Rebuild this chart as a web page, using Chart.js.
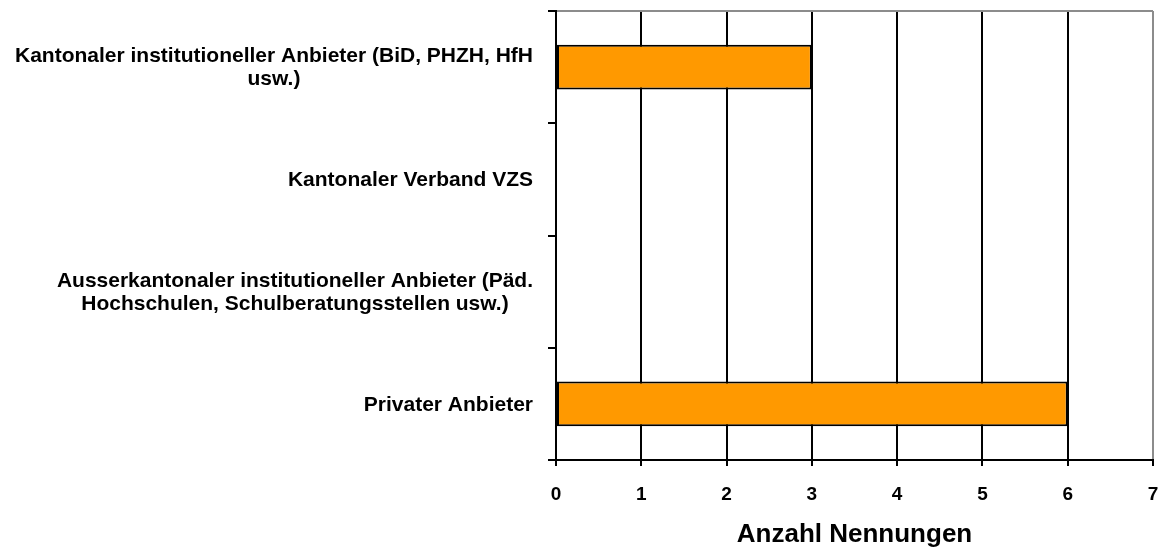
<!DOCTYPE html>
<html>
<head>
<meta charset="utf-8">
<script src="https://cdn.jsdelivr.net/npm/chart.js@4.4.1/dist/chart.umd.min.js"></script>
<style>
  html, body { margin: 0; padding: 0; background: #fff; }
  #wrap { width: 1166px; height: 554px; }
</style>
</head>
<body>
<div id="wrap"><canvas id="barChart" width="1166" height="554"></canvas></div>
<script>
// Kategorien (als Zeilen, wie im Original umbrochen)
const categories = [
  ['Kantonaler institutioneller Anbieter (BiD, PHZH, HfH', 'usw.)'],
  ['Kantonaler Verband VZS'],
  ['Ausserkantonaler institutioneller Anbieter (Päd.', 'Hochschulen, Schulberatungsstellen usw.)'],
  ['Privater Anbieter']
];
const nennungen = [3, 0, 0, 6];
const xMin = 0;
const xMax = 7;
const xStep = 1;
const axisTitle = 'Anzahl Nennungen';

const FONT = '"Liberation Sans", Arial, Helvetica, sans-serif';

// draws the wrapped category labels: block right-aligned, lines centred
const catLabels = {
  id: 'catLabels',
  afterDraw(chart) {
    const y = chart.scales.y;
    const c = chart.ctx;
    c.save();
    c.font = 'bold 21px ' + FONT;
    c.fillStyle = '#000';
    c.textAlign = 'center';
    c.textBaseline = 'middle';
    const right = y.right - 23;
    categories.forEach((lines, i) => {
      const yc = y.getPixelForValue(i) + 1;
      const w = Math.max(...lines.map(l => c.measureText(l).width));
      const cx = right - w / 2;
      lines.forEach((l, j) => {
        c.fillText(l, cx, yc + (j - (lines.length - 1) / 2) * 23);
      });
    });
    c.restore();
  }
};

const ctx = document.getElementById('barChart').getContext('2d');
new Chart(ctx, {
  type: 'bar',
  data: {
    labels: categories,
    datasets: [
      {
        data: nennungen,
        backgroundColor: '#FF9900',
        borderColor: '#000',
        borderWidth: 2,
        borderSkipped: false,
        barPercentage: 0.4,
        categoryPercentage: 1.0,
      },
    ],
  },
  options: {
    indexAxis: 'y',
    responsive: false,
    animation: false,
    devicePixelRatio: 1,
    layout: { padding: { top: 11, right: 13, left: 0, bottom: 0 } },
    plugins: {
      legend: { display: false },
      tooltip: { enabled: false },
    },
    scales: {
      x: {
        min: xMin,
        max: xMax,
        ticks: {
          stepSize: xStep,
          color: '#000',
          font: { family: FONT, size: 19, weight: 'bold' },
          padding: 17,
          maxRotation: 0,
        },
        grid: {
          color: (c) => (c.tick && c.tick.value === xMax ? '#8c8c8c' : '#000'),
          lineWidth: 2,
          drawTicks: true,
          tickLength: 6,
          tickColor: '#000',
        },
        border: { color: '#000', width: 2 },
        title: {
          display: true,
          text: axisTitle,
          color: '#000',
          font: { family: FONT, size: 26, weight: 'bold' },
          padding: { top: 0, bottom: 4 },
        },
        afterFit(scale) {
          scale.height = 94;
          scale.paddingLeft = 0;
          scale.paddingRight = 0;
        },
      },
      y: {
        ticks: { display: false },
        grid: {
          color: (c) => (c.index === 0 ? '#8c8c8c' : 'rgba(0,0,0,0)'),
          lineWidth: 2,
          drawTicks: true,
          tickLength: 8,
          tickColor: '#000',
          tickWidth: 2,
        },
        border: { color: '#000', width: 2 },
        afterFit(scale) { scale.width = 556; },
      },
    },
  },
  plugins: [catLabels],
});
</script>
</body>
</html>
